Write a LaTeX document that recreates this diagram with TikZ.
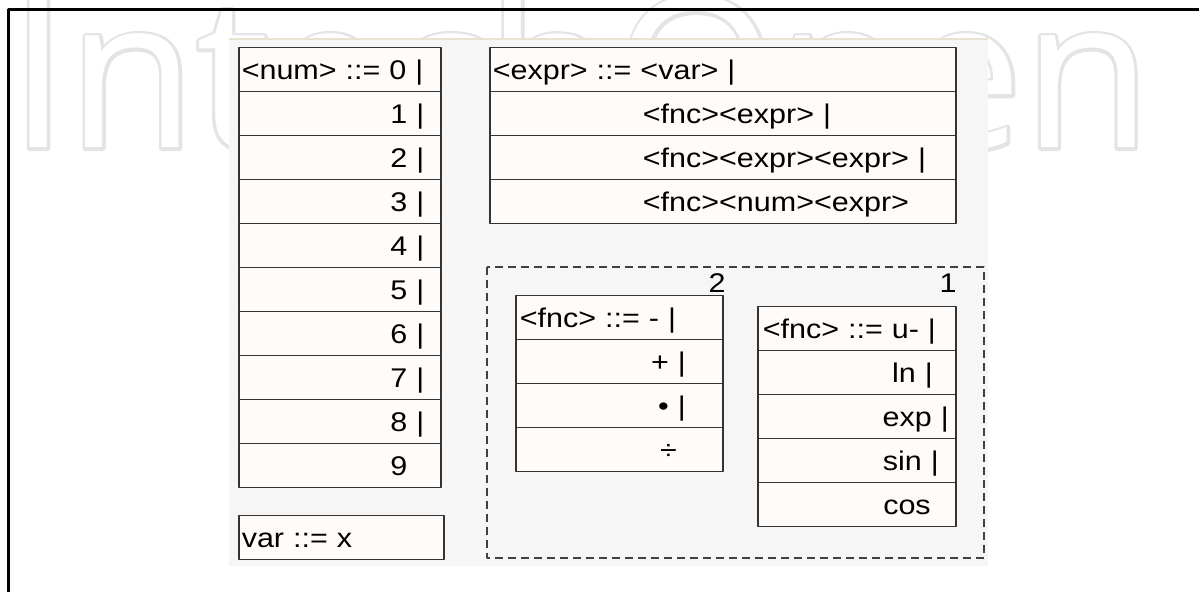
\documentclass[tikz,border=0pt]{standalone}
\usepackage{fontspec}
\setmainfont{Liberation Sans}[FakeStretch=1.13]
\newfontfamily\wmfont{Open Sans}
\newfontfamily\wmfontb{Open Sans}[FakeBold=3]
\definecolor{panelbg}{RGB}{246,246,246}
\definecolor{cellbg}{RGB}{255,251,248}
\definecolor{wmgray}{RGB}{228,228,228}
\definecolor{rimtan}{RGB}{232,226,208}
\begin{document}
\begin{tikzpicture}[x=.5pt,y=-.5pt,line join=round,font=\fontsize{13.5}{16}\selectfont,
	cell/.style={draw=black!80,fill=cellbg,line width=.75pt,inner xsep=0pt,inner ysep=0pt,
		text height=16pt,text depth=6pt,anchor=north west,text width=#1},
	lcell/.style={cell=#1,align=left},
	rcell/.style={cell=#1,align=right}]
	\useasboundingbox (0,0) rectangle (1199,592);
	% watermark
	\node[wmgray,anchor=base west,inner sep=0pt,font=\fontsize{104.5}{110}\wmfontb] (wm) at (9,148) {IntechOpen};
	\node[white,anchor=base west,inner sep=0pt,font=\fontsize{104.5}{110}\wmfont] (wmin) at (9,148) {IntechOpen};
	% frame and panel
	\draw[line width=1.5pt] (8,592) -- (8,10) -- (1199,10);
	\fill[panelbg] (229,39) rectangle (988,566);
	\draw[rimtan,line width=.75pt] (229,39) -- (988,39);
	% <num>
	\node[lcell=101pt] (num0) at (238,47) {\rule{1.5pt}{0pt}<num> ::= 0 |};
	\foreach \d in {1,...,8}
		\node[rcell=101pt] (num\d) at (238,47+44*\d) {\d{} |\rule{8.25pt}{0pt}};
	\node[rcell=101pt] (num9) at (238,443) {9\phantom{\ |}\rule{8.25pt}{0pt}};
	\node[lcell=102.5pt] (var) at (238,515) {\rule{1.5pt}{0pt}var ::= x};
	% <expr>
	\node[lcell=233pt] (expr0) at (489,47) {\rule{1.5pt}{0pt}<expr> ::= <var> |};
	\foreach \t [count=\i] in {<fnc><expr> |,<fnc><expr><expr> |,<fnc><num><expr>}
		\node[lcell=233pt] (expr\i) at (489,47+44*\i) {\rule{76.5pt}{0pt}\t};
	% <fnc>
	\draw[black!75,line width=.75pt,dash pattern=on 4pt off 2.5pt] (487,267) rectangle (984,558);
	\node (two) at (717,283) {2};
	\node (one) at (948,283) {1};
	\node[lcell=103.5pt] (fb0) at (515,295) {\rule{2pt}{0pt}<fnc> ::= - |};
	\foreach \t/\p [count=\i] in {+ |/18.5,• |/18.5,÷\phantom{\ |}/14.5}
		\node[rcell=103.5pt] (fb\i) at (515,295+44*\i) {\t\rule{\p pt}{0pt}};
	\node[lcell=99pt] (fu0) at (757,306) {\rule{2.5pt}{0pt}<fnc> ::= u- |};
	\foreach \t/\p [count=\i] in {ln |/11.5,exp |/3.5,sin |/8.5,cos/12.5}
		\node[rcell=99pt] (fu\i) at (757,306+44*\i) {\t\rule{\p pt}{0pt}};
\end{tikzpicture}
\end{document}
